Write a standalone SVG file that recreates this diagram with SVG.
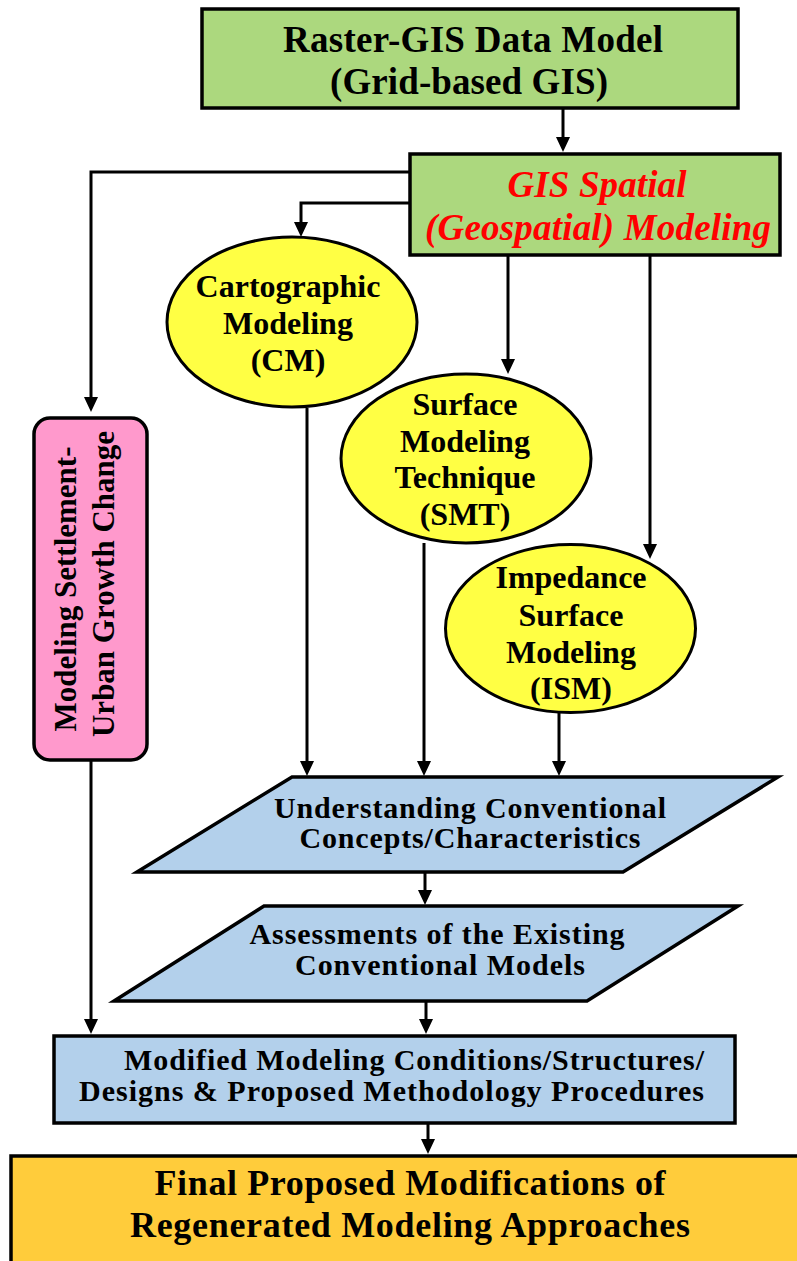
<svg xmlns="http://www.w3.org/2000/svg" width="797" height="1261" viewBox="0 0 797 1261">
<defs>
<marker id="ah" markerWidth="15" markerHeight="14" refX="5" refY="7" orient="auto" markerUnits="userSpaceOnUse" viewBox="0 0 15 14">
<path d="M0,0 L15,7 L0,14 Z" fill="#000"/>
</marker>
<style>
text{font-family:"Liberation Serif","Times New Roman",serif;font-weight:bold;fill:#000;text-anchor:middle}
.box{stroke:#000;stroke-width:3.5}
.ell{fill:#FFFF44;stroke:#000;stroke-width:3}
.con{fill:none;stroke:#000;stroke-width:3}
.green{fill:#ACD87E}
.blue{fill:#B3D0EB}
.red{fill:#FF0000;font-style:italic}
</style>
</defs>
<rect width="797" height="1261" fill="#fff"/>

<g id="node-raster">
<rect class="box green" x="202" y="9" width="536" height="99"/>
<text x="473" y="52" font-size="37" textLength="380">Raster-GIS Data Model</text>
<text x="469" y="94" font-size="37" textLength="278">(Grid-based GIS)</text>
</g>

<g id="node-gis">
<rect class="box green" x="410" y="154" width="370" height="101"/>
<text class="red" x="597" y="197" font-size="37" textLength="179">GIS Spatial</text>
<text class="red" x="598" y="240" font-size="37" textLength="346">(Geospatial) Modeling</text>
</g>

<g id="node-cm">
<ellipse class="ell" cx="292" cy="322" rx="125" ry="85"/>
<text x="288" y="297" font-size="32">Cartographic</text>
<text x="288" y="334" font-size="32">Modeling</text>
<text x="288" y="371" font-size="32">(CM)</text>
</g>

<g id="node-smt">
<ellipse class="ell" cx="466" cy="458.5" rx="125" ry="84.5"/>
<text x="465" y="415" font-size="32">Surface</text>
<text x="465" y="452" font-size="32">Modeling</text>
<text x="465" y="488" font-size="32">Technique</text>
<text x="465" y="525" font-size="32">(SMT)</text>
</g>

<g id="node-ism">
<ellipse class="ell" cx="570.5" cy="628.5" rx="125" ry="84"/>
<text x="571" y="588" font-size="32">Impedance</text>
<text x="571" y="626" font-size="32">Surface</text>
<text x="571" y="663" font-size="32">Modeling</text>
<text x="571" y="699" font-size="32">(ISM)</text>
</g>

<g id="node-urban">
<rect class="box" x="34" y="418" width="113" height="342" rx="16" fill="#FF99CC"/>
<text transform="translate(76,589) rotate(-90)" font-size="31">Modeling Settlement-</text>
<text transform="translate(114,584) rotate(-90)" font-size="31">Urban Growth Change</text>
</g>

<g id="node-understanding">
<polygon class="box blue" points="292,777 778,777 623,872 137,872"/>
<text x="470" y="818" font-size="30" textLength="392">Understanding Conventional</text>
<text x="470" y="848" font-size="30" textLength="341">Concepts/Characteristics</text>
</g>

<g id="node-assessments">
<polygon class="box blue" points="264,906 738,906 587,1001 114,1001"/>
<text x="437" y="944" font-size="30" textLength="375">Assessments of the Existing</text>
<text x="440" y="975" font-size="30" textLength="290">Conventional Models</text>
</g>

<g id="node-modified">
<rect class="box blue" x="54" y="1036" width="681" height="87"/>
<text x="704" y="1070" font-size="30" textLength="580" style="text-anchor:end">Modified Modeling Conditions/Structures/</text>
<text x="704" y="1101" font-size="30" textLength="625" style="text-anchor:end">Designs &amp; Proposed Methodology Procedures</text>
</g>

<g id="node-final">
<rect class="box" x="11" y="1156" width="800" height="120" fill="#FFCC3B"/>
<text x="410" y="1195" font-size="36" textLength="511">Final Proposed Modifications of</text>
<text x="410" y="1237" font-size="36" textLength="560">Regenerated Modeling Approaches</text>
</g>

<g id="edges">
<path class="con" d="M563,108 V142" marker-end="url(#ah)"/>
<path class="con" d="M409,172 H91 V402" marker-end="url(#ah)"/>
<path class="con" d="M409,203 H301 V227" marker-end="url(#ah)"/>
<path class="con" d="M508,255 V364" marker-end="url(#ah)"/>
<path class="con" d="M650,255 V549" marker-end="url(#ah)"/>
<path class="con" d="M307,408 V766" marker-end="url(#ah)"/>
<path class="con" d="M424,543 V766" marker-end="url(#ah)"/>
<path class="con" d="M559,712 V766" marker-end="url(#ah)"/>
<path class="con" d="M91,760 V1024" marker-end="url(#ah)"/>
<path class="con" d="M425,872 V895" marker-end="url(#ah)"/>
<path class="con" d="M426,1001 V1024" marker-end="url(#ah)"/>
<path class="con" d="M428,1123 V1144" marker-end="url(#ah)"/>
</g>
</svg>
